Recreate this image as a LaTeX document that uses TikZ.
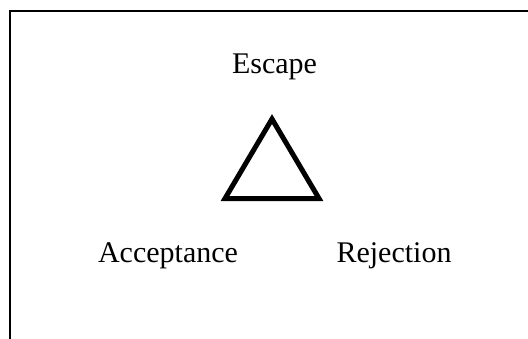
\documentclass[tikz,border=0pt]{standalone}
\usepackage{fontspec}
\setmainfont{Liberation Serif}
\usetikzlibrary{positioning}

\begin{document}
\begin{tikzpicture}[
  x=1pt, y=-1pt,
  label/.style={
    anchor=base,
    inner sep=0pt,
    font=\fontsize{30}{35}\selectfont
  },
  frame/.style={line width=2.2pt, line cap=rect},
  tri/.style={line width=5pt, miter limit=20}
]
\useasboundingbox (0,0) rectangle (528,338);

% open frame
\coordinate (fb) at (10,338);
\coordinate (fc) at (10,11);
\coordinate (fr) at (528,11);
\draw[frame] (fb) -- (fc) -- (fr);

% labels
\node[label] (escape) at (274.5,73) {Escape};
\node[label] (accept) at (168,262) {Acceptance};
\node[label] (reject) at (394,262) {Rejection};

% triangle
\coordinate (top) at (272,119);
\coordinate (left) at (225,198.5);
\coordinate (right) at (319,198.5);
\draw[tri] (left) -- (top) -- (right) -- cycle;
\end{tikzpicture}
\end{document}
